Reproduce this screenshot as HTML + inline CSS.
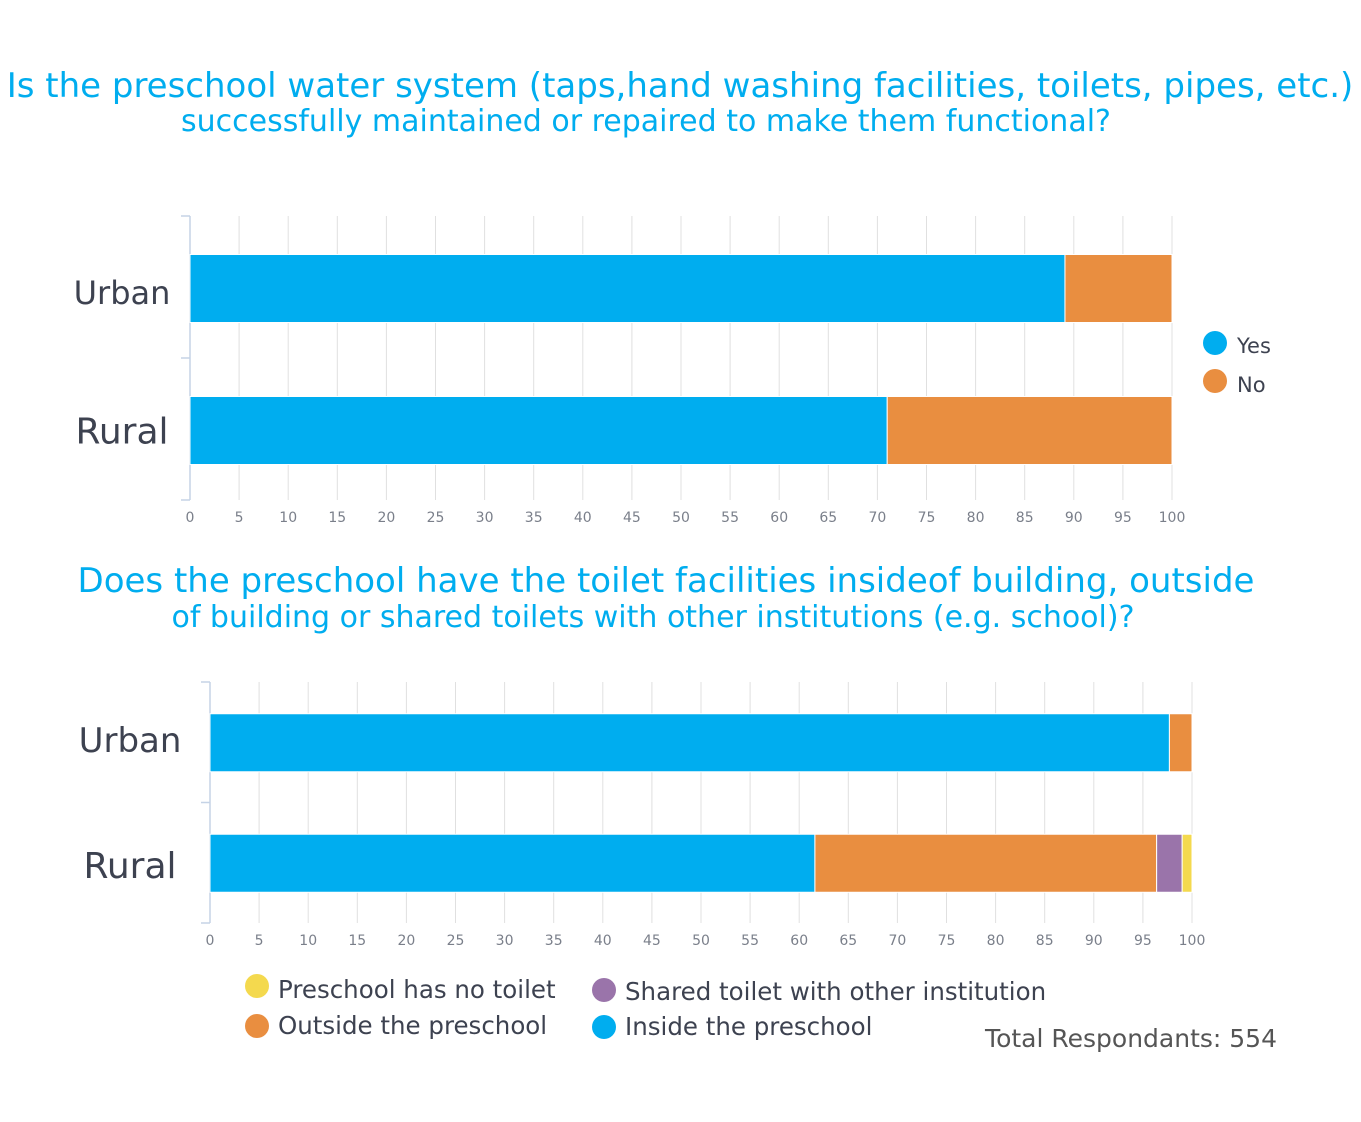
<!DOCTYPE html>
<html><head><meta charset="utf-8"><style>
html,body{margin:0;padding:0;background:#fff;}
svg{display:block;font-family:"DejaVu Sans","Liberation Sans",sans-serif;}
</style></head><body>
<svg id="svg" width="1361" height="1122" viewBox="0 0 1361 1122">
<text x="680" y="97" text-anchor="middle" font-size="34" fill="#00adef">Is the preschool water system (taps,hand washing facilities, toilets, pipes, etc.)</text>
<text x="646" y="131" text-anchor="middle" font-size="30" fill="#00adef">successfully maintained or repaired to make them functional?</text>
<g id="c1"></g>
<text x="1237" y="353" font-size="21" fill="#3d4250">Yes</text>
<circle cx="1215" cy="343" r="12" fill="#00adef"/>
<text x="1237" y="392" font-size="21" fill="#3d4250">No</text>
<circle cx="1215" cy="381" r="12" fill="#e98e40"/>
<text x="666" y="592" text-anchor="middle" font-size="34" fill="#00adef">Does the preschool have the toilet facilities insideof building, outside</text>
<text x="653" y="627" text-anchor="middle" font-size="30" fill="#00adef">of building or shared toilets with other institutions (e.g. school)?</text>
<g id="c2"></g>
<g>
<circle cx="257" cy="986" r="12" fill="#f4d94e"/>
<text x="278" y="998" font-size="24.5" fill="#3d4250">Preschool has no toilet</text>
<circle cx="257" cy="1026" r="12" fill="#e98e40"/>
<text x="278" y="1034" font-size="24.5" fill="#3d4250">Outside the preschool</text>
<circle cx="604" cy="990" r="12" fill="#9a74aa"/>
<text x="625" y="1000" font-size="24.5" fill="#3d4250">Shared toilet with other institution</text>
<circle cx="604" cy="1027" r="12" fill="#00adef"/>
<text x="625" y="1035" font-size="24.5" fill="#3d4250">Inside the preschool</text>
</g>
<text x="1277" y="1047" text-anchor="end" font-size="25" fill="#555">Total Respondants: 554</text>
</svg>
<script>
const categories = ["Urban","Rural"];
const c1Yes = [89.1, 71.0];
const c1No = [10.9, 29.0];
const c2Inside = [97.7, 61.6];
const c2Outside = [2.3, 34.8];
const c2Shared = [0, 2.6];
const c2None = [0, 1.0];
const ticks = [0,5,10,15,20,25,30,35,40,45,50,55,60,65,70,75,80,85,90,95,100];
const NS="http://www.w3.org/2000/svg";
function mk(p,t,a){const e=document.createElementNS(NS,t);for(const k in a)e.setAttribute(k,a[k]);p.appendChild(e);return e;}
function chart(g,cfg,series){
  const x=v=>cfg.x0+v*(cfg.x1-cfg.x0)/100;
  const band=(cfg.y1-cfg.y0)/categories.length;
  ticks.forEach(t=>{
    const l=mk(g,'line',{x1:x(t),x2:x(t),y1:cfg.y0,y2:cfg.y1,stroke:'#e0e0e0','stroke-width':1});
    
    
    const tx=mk(g,'text',{x:x(t),y:cfg.y1+22,'text-anchor':'middle','font-size':14,fill:'#7a7f8a'});
    tx.textContent=t;
    
    
  });
  const ax=mk(g,'path',{d:`M${cfg.x0},${cfg.y0}V${cfg.y1}`,stroke:'#c5d3e6','stroke-width':1.5,fill:'none'});
  
  
  for(let i=0;i<=categories.length;i++){
    const tk=mk(g,'line',{x1:cfg.x0-9,x2:cfg.x0,y1:cfg.y0+i*band,y2:cfg.y0+i*band,stroke:'#c5d3e6','stroke-width':1.5});
    
    
  }
  categories.forEach((c,i)=>{
    const yc=cfg.y0+band*(i+0.5)+cfg.shift;
    const lb=mk(g,'text',{x:cfg.labelX,y:yc+cfg.labelFs[i]*0.36+cfg.lshift[i],'text-anchor':'middle','font-size':cfg.labelFs[i],fill:'#3d4250'});
    lb.textContent=c;
    
    
    let acc=0;
    series.forEach(s=>{
      const v=s.vals[i]; if(v<=0) return;
      const r=mk(g,'rect',{x:x(acc),y:yc-cfg.bh/2,width:x(acc+v)-x(acc),height:cfg.bh,fill:s.color,stroke:'#fff','stroke-width':1});
      
      
      acc+=v;
    });
  });
}
chart(document.getElementById('c1'),{x0:190,x1:1172,y0:216,y1:500,bh:68,labelX:122,labelFs:[32,36],shift:1.5,lshift:[4,0]},
 [{name:'yes',vals:c1Yes,color:'#00adef'},{name:'no',vals:c1No,color:'#e98e40'}]);
chart(document.getElementById('c2'),{x0:210,x1:1192,y0:682,y1:923,bh:58,labelX:130,labelFs:[34,36],shift:0.5,lshift:[-3,2]},
 [{name:'inside',vals:c2Inside,color:'#00adef'},{name:'outside',vals:c2Outside,color:'#e98e40'},{name:'shared',vals:c2Shared,color:'#9a74aa'},{name:'none',vals:c2None,color:'#f4d94e'}]);
</script>
</body></html>
